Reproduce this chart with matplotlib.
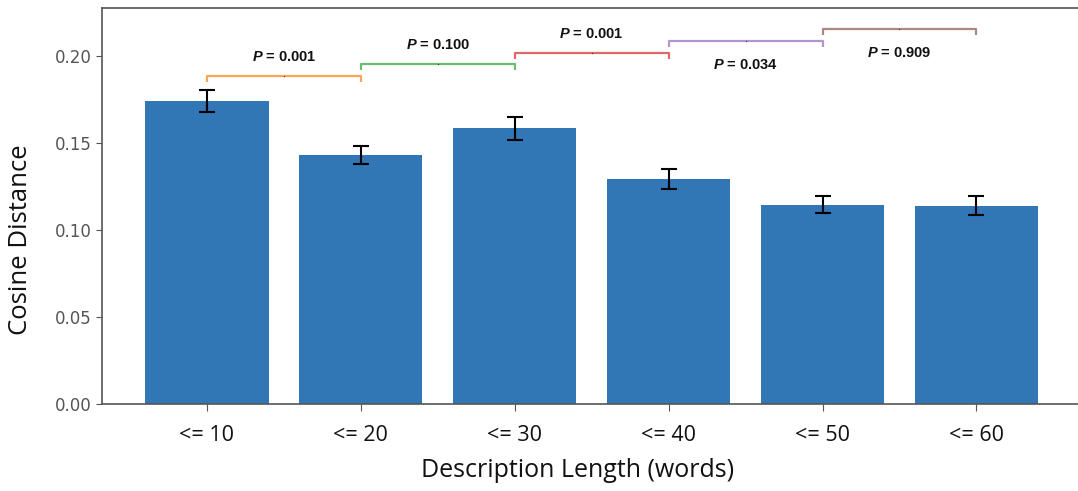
import matplotlib
matplotlib.use("Agg")
import matplotlib.pyplot as plt
import numpy as np

categories = ["<= 10", "<= 20", "<= 30", "<= 40", "<= 50", "<= 60"]
means = [0.1742, 0.1431, 0.1584, 0.1293, 0.1146, 0.1140]
errors = [0.0061, 0.0052, 0.0068, 0.0057, 0.0050, 0.0055]
pairs = [(0, 1), (1, 2), (2, 3), (3, 4), (4, 5)]
p_values = ["0.001", "0.100", "0.001", "0.034", "0.909"]
bracket_colors = ["tab:orange", "tab:green", "tab:red", "tab:purple", "tab:brown"]

plt.rcParams['mathtext.fontset'] = 'custom'
plt.rcParams['mathtext.it'] = 'Liberation Sans:bold:italic'
plt.rcParams['mathtext.rm'] = 'Liberation Sans:bold'

W, H = 1078, 491
fig = plt.figure(figsize=(W / 100, H / 100), dpi=100)
ax = fig.add_axes([102 / W, (H - 404) / H, (W - 102) / W + 0.01, (404 - 8) / H])

x = np.arange(len(categories))
ax.bar(x, means, width=0.8, color="#3176b5", yerr=errors, capsize=6,
       error_kw=dict(ecolor="black", elinewidth=1.5, capthick=1.5))

ax.set_xlim(-0.682, 5.66 + 0.07)
ax.set_ylim(0, 0.2276)

spine_c = "#555555"
for s in ["left", "bottom", "top"]:
    ax.spines[s].set_color(spine_c)
    ax.spines[s].set_linewidth(1.2)
ax.spines["right"].set_visible(False)

ax.set_yticks([0.0, 0.05, 0.10, 0.15, 0.20])
ax.set_yticklabels(["0.00", "0.05", "0.10", "0.15", "0.20"])
ax.tick_params(axis="y", colors=spine_c, labelsize=12, labelcolor="#555555", length=4)
ax.tick_params(axis="x", colors=spine_c, length=5, labelcolor="#111111", pad=10)
ax.set_xticks(x)
ax.set_xticklabels(categories, fontfamily="Open Sans", fontsize=15.5)

ax.set_ylabel("Cosine Distance", fontfamily="Open Sans", fontsize=18.5, color="#111111")
ax.yaxis.set_label_coords(-0.070, 0.414)
ax.set_xlabel("Description Length (words)", fontfamily="Open Sans", fontsize=18, color="#111111")
ax.xaxis.set_label_coords(0.482, -0.137)

base = 0.1885
step = 0.0067
tick = 0.0035
for i, ((a, b), p, c) in enumerate(zip(pairs, p_values, bracket_colors)):
    y = base + i * step
    ax.plot([a, a, b, b], [y - tick, y, y, y - tick], color=c, alpha=0.7, lw=1.6,
            solid_capstyle="butt")
    mid = (a + b) / 2
    ax.plot([mid], [y], marker="o", ms=0.9, color="#333333", mew=0)
    if i < 3:
        ty = y + 0.0110
    else:
        ty = y - 0.0135
    ax.text(mid, ty, r"$P$ = " + p, ha="center", va="center", fontsize=10.5,
            fontfamily="Liberation Sans", fontweight="bold", color="#111111")

fig.savefig("out.png", dpi=100)
